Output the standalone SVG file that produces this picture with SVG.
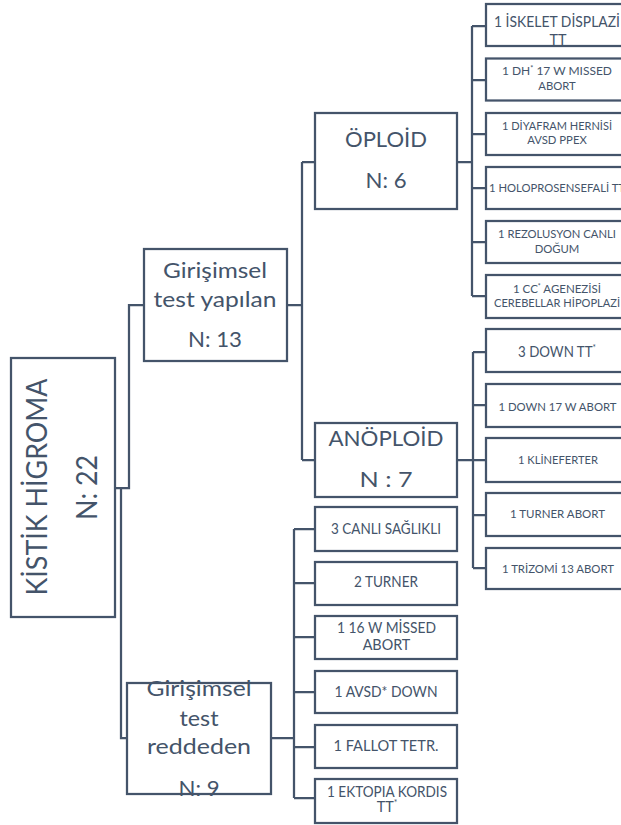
<svg xmlns="http://www.w3.org/2000/svg" width="621" height="825" viewBox="0 0 621 825">
<style>
.b{fill:#fff;stroke:#44546A;stroke-width:2.25}
.c{fill:none;stroke:#44546A;stroke-width:2.25}
text{font-family:Lato,"Open Sans","Noto Sans",sans-serif;fill:#44546A;text-anchor:middle}
.xl{font-size:29px}
.l{font-size:21.5px}
.m{font-size:14.4px}
.s{font-size:11.3px}
.sup{font-size:60%}
</style>
<rect width="621" height="825" fill="#fff"/>
<g id="connectors">
<path class="c" d="M115,488H129V305H144"/>
<path class="c" d="M121,488V738H127"/>
<path class="c" d="M287,305H302M302,162V460M302,162H315M302,460H315"/>
<path class="c" d="M457,162H472M472,26V296M472,26H486M472,80H486M472,134H486M472,188H486M472,242H486M472,296H486"/>
<path class="c" d="M457,460H473M473,352V568M473,352H486M473,405H486M473,460H486M473,515H486M473,568H486"/>
<path class="c" d="M271,738H294M294,529V798M294,529H315M294,583H315M294,637H315M294,692H315M294,747H315M294,798H315"/>
</g>
<g id="kistik">
<rect class="b" x="11" y="358" width="104" height="259"/>
<text class="xl" transform="translate(47,487) rotate(-90)" textLength="217" lengthAdjust="spacingAndGlyphs">KİSTİK HİGROMA</text>
<text class="xl" transform="translate(97,487.5) rotate(-90)" textLength="65" lengthAdjust="spacingAndGlyphs">N: 22</text>
</g>
<g id="yapilan">
<rect class="b" x="144" y="249" width="143" height="112"/>
<text class="l" x="215" y="278" textLength="104" lengthAdjust="spacingAndGlyphs">Girişimsel</text>
<text class="l" x="215" y="307" textLength="123" lengthAdjust="spacingAndGlyphs">test yapılan</text>
<text class="l" x="215" y="347" textLength="54" lengthAdjust="spacingAndGlyphs">N: 13</text>
</g>
<g id="reddeden">
<rect class="b" x="127" y="683" width="144" height="111"/>
<text class="l" x="199" y="696" textLength="105" lengthAdjust="spacingAndGlyphs">Girişimsel</text>
<text class="l" x="199" y="726" textLength="39" lengthAdjust="spacingAndGlyphs">test</text>
<text class="l" x="199" y="754" textLength="104" lengthAdjust="spacingAndGlyphs">reddeden</text>
<text class="l" x="199" y="796" textLength="41" lengthAdjust="spacingAndGlyphs">N: 9</text>
</g>
<g id="oploid">
<rect class="b" x="315" y="113" width="142" height="96"/>
<text class="l" x="386" y="147" textLength="82" lengthAdjust="spacingAndGlyphs">ÖPLOİD</text>
<text class="l" x="386" y="188" textLength="41" lengthAdjust="spacingAndGlyphs">N: 6</text>
</g>
<g id="anoploid">
<rect class="b" x="315" y="423" width="142" height="74"/>
<text class="l" x="386" y="446" textLength="115" lengthAdjust="spacingAndGlyphs">ANÖPLOİD</text>
<text class="l" x="386" y="487" textLength="53" lengthAdjust="spacingAndGlyphs">N : 7</text>
</g>
<g id="op1">
<rect class="b" x="486" y="4" width="143" height="42"/>
<text class="m" x="557" y="27" textLength="126" lengthAdjust="spacingAndGlyphs">1  İSKELET DİSPLAZİ</text>
<text class="m" x="558" y="45">TT</text>
</g>
<g id="op2">
<rect class="b" x="486" y="58.5" width="143" height="42"/>
<text class="s" x="557" y="75" textLength="110" lengthAdjust="spacingAndGlyphs">1 DH<tspan class="sup" dy="-4">*</tspan><tspan dy="4"> 17 W MISSED</tspan></text>
<text class="s" x="557" y="90">ABORT</text>
</g>
<g id="op3">
<rect class="b" x="486" y="113" width="143" height="42"/>
<text class="s" x="557" y="130" textLength="110" lengthAdjust="spacingAndGlyphs">1 DİYAFRAM HERNİSİ</text>
<text class="s" x="557" y="144">AVSD PPEX</text>
</g>
<g id="op4">
<rect class="b" x="486" y="167" width="143" height="42"/>
<text class="s" x="557" y="192" textLength="136" lengthAdjust="spacingAndGlyphs">1 HOLOPROSENSEFALİ TT</text>
</g>
<g id="op5">
<rect class="b" x="486" y="221" width="143" height="42"/>
<text class="s" x="557" y="238" textLength="118" lengthAdjust="spacingAndGlyphs">1 REZOLUSYON CANLI</text>
<text class="s" x="557" y="253">DOĞUM</text>
</g>
<g id="op6">
<rect class="b" x="486" y="275" width="143" height="43"/>
<text class="s" x="557" y="293" textLength="88" lengthAdjust="spacingAndGlyphs">1 CC<tspan class="sup" dy="-4">*</tspan><tspan dy="4"> AGENEZİSİ</tspan></text>
<text class="s" x="557" y="307" textLength="126" lengthAdjust="spacingAndGlyphs">CEREBELLAR HİPOPLAZİ</text>
</g>
<g id="an1">
<rect class="b" x="486" y="329" width="143" height="43"/>
<text class="m" x="557" y="357" textLength="78" lengthAdjust="spacingAndGlyphs">3 DOWN TT<tspan class="sup" dy="-6">*</tspan></text>
</g>
<g id="an2">
<rect class="b" x="486" y="384" width="143" height="43"/>
<text class="s" x="557.5" y="411" textLength="118" lengthAdjust="spacingAndGlyphs">1 DOWN 17 W ABORT</text>
</g>
<g id="an3">
<rect class="b" x="486" y="438" width="143" height="44"/>
<text class="s" x="558" y="464" textLength="80" lengthAdjust="spacingAndGlyphs">1 KLİNEFERTER</text>
</g>
<g id="an4">
<rect class="b" x="486" y="493" width="143" height="43"/>
<text class="s" x="557.5" y="518" textLength="95" lengthAdjust="spacingAndGlyphs">1 TURNER ABORT</text>
</g>
<g id="an5">
<rect class="b" x="486" y="548" width="143" height="41"/>
<text class="s" x="558" y="573" textLength="112" lengthAdjust="spacingAndGlyphs">1 TRİZOMİ 13 ABORT</text>
</g>
<g id="rd1">
<rect class="b" x="315" y="507" width="142" height="44"/>
<text class="m" x="386" y="534" textLength="110" lengthAdjust="spacingAndGlyphs">3 CANLI SAĞLIKLI</text>
</g>
<g id="rd2">
<rect class="b" x="315" y="562" width="142" height="43"/>
<text class="m" x="386" y="587" textLength="64" lengthAdjust="spacingAndGlyphs">2 TURNER</text>
</g>
<g id="rd3">
<rect class="b" x="315" y="616" width="142" height="43"/>
<text class="m" x="386.5" y="633" textLength="99" lengthAdjust="spacingAndGlyphs">1 16 W MİSSED</text>
<text class="m" x="386.5" y="650">ABORT</text>
</g>
<g id="rd4">
<rect class="b" x="315" y="671" width="142" height="42"/>
<text class="m" x="386" y="697" textLength="103" lengthAdjust="spacingAndGlyphs">1 AVSD* DOWN</text>
</g>
<g id="rd5">
<rect class="b" x="315" y="725" width="142" height="43"/>
<text class="m" x="386" y="751" textLength="105" lengthAdjust="spacingAndGlyphs">1 FALLOT TETR.</text>
</g>
<g id="rd6">
<rect class="b" x="315" y="779" width="142" height="44"/>
<text class="m" x="387" y="797" textLength="120" lengthAdjust="spacingAndGlyphs">1 EKTOPIA KORDIS</text>
<text class="m" x="387" y="812">TT<tspan class="sup" dy="-6">*</tspan></text>
</g>
</svg>
